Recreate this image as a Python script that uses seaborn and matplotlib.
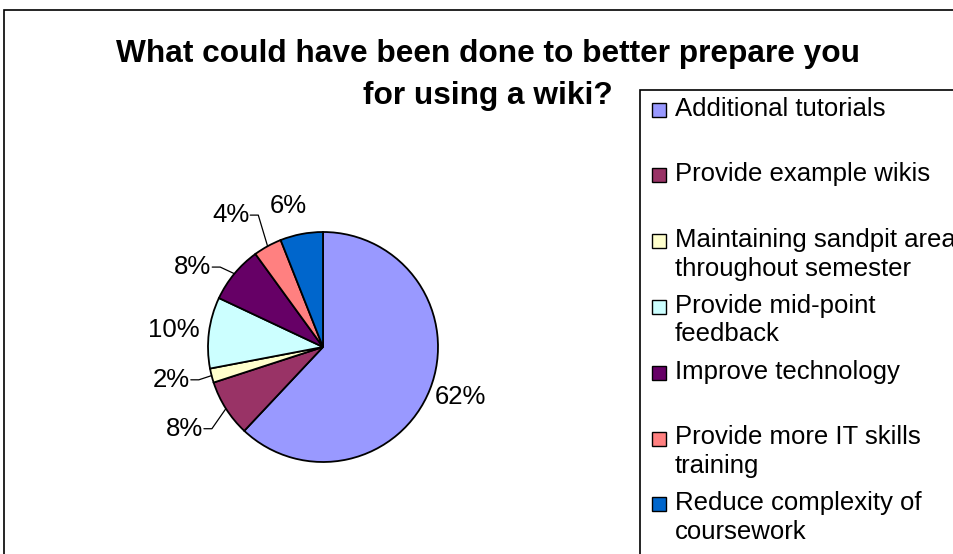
import numpy as np
import matplotlib
matplotlib.use("Agg")
import matplotlib.pyplot as plt
import seaborn as sns
from matplotlib.patches import Rectangle

# ---- data ----
categories = [
    "Additional tutorials",
    "Provide example wikis",
    "Maintaining sandpit area\nthroughout semester",
    "Provide mid-point\nfeedback",
    "Improve technology",
    "Provide more IT skills\ntraining",
    "Reduce complexity of\ncoursework",
]
percentages = [62, 8, 2, 10, 8, 4, 6]
pct_labels = ["62%", "8%", "2%", "10%", "8%", "4%", "6%"]
colors = ["#9999FF", "#993366", "#FFFFCC", "#CCFFFF", "#660066", "#FF8080", "#0066CC"]
title_lines = ["What could have been done to better prepare you", "for using a wiki?"]

# ---- layout (pixel-based) ----
W, H = 954, 554
sns.set_theme(style="white")
plt.rcParams["font.family"] = ["Liberation Sans", "DejaVu Sans"]

fig = plt.figure(figsize=(W / 100, H / 100), dpi=100)
ax = fig.add_axes([0, 0, 1, 1])

cx, cy, R = 323, H - 347, 115
wedges, _ = ax.pie(
    percentages, colors=colors, startangle=90, counterclock=False,
    center=(cx, cy), radius=R,
    wedgeprops=dict(edgecolor="black", linewidth=1.3),
)
ax.set_xlim(0, W)
ax.set_ylim(0, H)
ax.set_aspect("equal")
ax.axis("off")

# outer chart frame
ax.add_patch(Rectangle((4, -10), W + 10, H - 10 + 10, fill=False,
                       edgecolor="black", linewidth=1.2))

# title
ax.text(488, H - 62, title_lines[0],
        ha="center", va="baseline", fontsize=22.8, fontweight="bold", color="black")
ax.text(488, H - 104, title_lines[1],
        ha="center", va="baseline", fontsize=22.8, fontweight="bold", color="black")

# percentage labels
FS = 18.5
nudges = [1.5, -1.9, -2.2, 0.7, 8.1, 6.2, 3.1]
dists = [1.277, 1.40, 1.35, 1.31, 1.33, 1.40, 1.264]
leader = [False, True, True, False, True, True, False]
fig.canvas.draw()
renderer = fig.canvas.get_renderer()
for w, lab, nd, d, ld in zip(wedges, pct_labels, nudges, dists, leader):
    mid = 0.5 * (w.theta1 + w.theta2)
    a = np.deg2rad(mid + nd)
    lx, ly = cx + d * R * np.cos(a), cy + d * R * np.sin(a)
    t = ax.text(lx, ly, lab, ha="center", va="center", fontsize=FS, color="black")
    if ld:
        bb = t.get_window_extent(renderer)
        half = bb.width / 2
        ma = np.deg2rad(mid)
        ex, ey = cx + R * np.cos(ma), cy + R * np.sin(ma)
        rx = lx + half + 1
        ax.plot([rx, rx + 8, ex], [ly, ly, ey], color="black", lw=0.9)

# legend box
lx0, ly0 = 640, H - 90
ax.add_patch(Rectangle((lx0, -10), W - lx0 + 10, ly0 + 10, fill=False,
                       edgecolor="black", linewidth=1.2))
top = H - 109.5
step = 65.8
line_h = 28.5
for i, (cat, col) in enumerate(zip(categories, colors)):
    y = top - i * step
    ax.add_patch(Rectangle((652, y - 7), 14, 14, facecolor=col,
                           edgecolor="black", linewidth=1.0))
    for k, line in enumerate(cat.split("\n")):
        ax.text(675, y - 6 - k * line_h, line, ha="left", va="baseline",
                fontsize=FS, color="black")

fig.savefig("out.png", dpi=100)
